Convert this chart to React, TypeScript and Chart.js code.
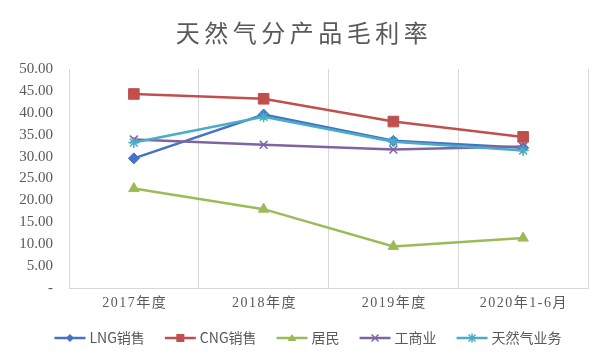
import React, { useEffect, useRef } from "react";
import { Chart, registerables } from "chart.js";

Chart.register(...registerables);

const chartTitle = "天然气分产品毛利率";
const categories = ["2017年度", "2018年度", "2019年度", "2020年1-6月"];
const seriesNames = ["LNG销售", "CNG销售", "居民", "工商业", "天然气业务"];
const lngSales = [29.6, 39.6, 33.6, 32.0];
const cngSales = [44.3, 43.2, 38.0, 34.5];
const residents = [22.7, 18.0, 9.5, 11.4];
const industrial = [33.9, 32.7, 31.6, 32.3];
const gasBusiness = [33.2, 39.1, 33.4, 31.4];
const yTicks = [0, 5, 10, 15, 20, 25, 30, 35, 40, 45, 50];

const colors = ["#4472C4", "#C0504D", "#9BBB59", "#8064A2", "#4BACC6"];
const styles = ["rectRot", "rect", "triangle", "crossRot", "star"];
const radii = [5.5, 7.5, 6, 5.5, 5.5];
const textColor = "#595959";

function drawMarker(ctx: CanvasRenderingContext2D, style: string, x: number, y: number) {
  ctx.lineWidth = 1.5;
  ctx.beginPath();
  if (style === "rectRot") {
    ctx.moveTo(x, y - 4);
    ctx.lineTo(x + 4, y);
    ctx.lineTo(x, y + 4);
    ctx.lineTo(x - 4, y);
    ctx.closePath();
    ctx.fill();
  } else if (style === "rect") {
    ctx.rect(x - 4, y - 4, 8, 8);
    ctx.fill();
  } else if (style === "triangle") {
    ctx.moveTo(x, y - 4);
    ctx.lineTo(x + 4.5, y + 3);
    ctx.lineTo(x - 4.5, y + 3);
    ctx.closePath();
    ctx.fill();
  } else if (style === "crossRot") {
    ctx.moveTo(x - 3.5, y - 3.5);
    ctx.lineTo(x + 3.5, y + 3.5);
    ctx.moveTo(x + 3.5, y - 3.5);
    ctx.lineTo(x - 3.5, y + 3.5);
    ctx.stroke();
  } else {
    ctx.moveTo(x - 3.5, y - 3.5);
    ctx.lineTo(x + 3.5, y + 3.5);
    ctx.moveTo(x + 3.5, y - 3.5);
    ctx.lineTo(x - 3.5, y + 3.5);
    ctx.moveTo(x, y - 4.5);
    ctx.lineTo(x, y + 4.5);
    ctx.stroke();
  }
}

const decorPlugin = {
  id: "decor",
  afterDraw(chart: any) {
    const ctx = chart.ctx as CanvasRenderingContext2D;
    // title
    ctx.save();
    ctx.font = "24px 'Noto Sans CJK SC'";
    (ctx as any).letterSpacing = "4.5px";
    ctx.fillStyle = textColor;
    ctx.textAlign = "center";
    ctx.textBaseline = "middle";
    ctx.fillText(chartTitle, chart.width / 2 + 2, 33);
    ctx.restore();

    // x category labels
    const xs = chart.scales.x;
    ctx.save();
    ctx.font = "14px 'Liberation Serif', 'Noto Sans CJK SC'";
    (ctx as any).letterSpacing = "1.5px";
    ctx.fillStyle = textColor;
    ctx.textAlign = "center";
    ctx.textBaseline = "middle";
    categories.forEach((c, i) => {
      ctx.fillText(c, xs.getPixelForValue(i) + 0.75, 303);
    });
    ctx.restore();

    // legend
    ctx.save();
    ctx.font = "14px 'Noto Sans CJK SC'";
    ctx.textBaseline = "middle";
    ctx.textAlign = "left";
    const lineLen = 31;
    const textGap = 4;
    const itemGap = 20;
    const widths = seriesNames.map((n) => lineLen + textGap + ctx.measureText(n).width);
    const total = widths.reduce((a, b) => a + b, 0) + itemGap * (seriesNames.length - 1);
    let x = 308 - total / 2;
    const y = 338;
    seriesNames.forEach((n, i) => {
      ctx.strokeStyle = colors[i];
      ctx.fillStyle = colors[i];
      ctx.lineWidth = 2.5;
      ctx.beginPath();
      ctx.moveTo(x, y);
      ctx.lineTo(x + lineLen, y);
      ctx.stroke();
      drawMarker(ctx, styles[i], x + lineLen / 2, y);
      ctx.fillStyle = textColor;
      ctx.fillText(n, x + lineLen + textGap, y);
      x += widths[i] + itemGap;
    });
    ctx.restore();
  },
};

export default function App() {
  const ref = useRef<HTMLCanvasElement>(null);

  useEffect(() => {
    const values = [lngSales, cngSales, residents, industrial, gasBusiness];
    const chart = new Chart(ref.current!, {
      type: "line",
      data: {
        labels: categories,
        datasets: seriesNames.map((name, i) => ({
          label: name,
          data: values[i],
          borderColor: colors[i],
          backgroundColor: colors[i],
          borderWidth: 2.5,
          pointStyle: styles[i] as any,
          pointRadius: radii[i],
          pointBorderWidth: styles[i] === "crossRot" || styles[i] === "star" ? 1.5 : 1,
          pointBackgroundColor: colors[i],
          pointBorderColor: colors[i],
          tension: 0,
          order: 5 - i,
        })),
      },
      plugins: [decorPlugin],
      options: {
        responsive: false,
        animation: false,
        layout: { padding: { left: 0, right: 16, top: 69, bottom: 50 } },
        plugins: {
          tooltip: { enabled: false },
          title: { display: false },
          legend: { display: false },
        },
        scales: {
          x: {
            offset: true,
            afterFit: (scale: any) => {
              scale.height = 20;
            },
            grid: {
              display: true,
              offset: true,
              color: "#d9d9d9",
              drawTicks: false,
            },
            border: { display: true, color: "#d9d9d9" },
            ticks: { display: false },
          },
          y: {
            min: 0,
            max: 50,
            afterBuildTicks: (scale: any) => {
              scale.ticks = yTicks.map((v) => ({ value: v }));
            },
            afterFit: (scale: any) => {
              scale.width = 69;
            },
            grid: { display: false, drawTicks: false },
            border: { display: false },
            ticks: {
              autoSkip: false,
              color: textColor,
              padding: 16,
              font: { family: "'Liberation Serif'", size: 15 },
              callback: (v: any) => (Number(v) === 0 ? "-" : Number(v).toFixed(2)),
            },
          },
        },
      },
    });
    return () => chart.destroy();
  }, []);

  return (
    <div style={{ position: "fixed", left: 0, top: 0, width: 604, height: 358, background: "#fff" }}>
      <canvas ref={ref} width={604} height={358} />
    </div>
  );
}
